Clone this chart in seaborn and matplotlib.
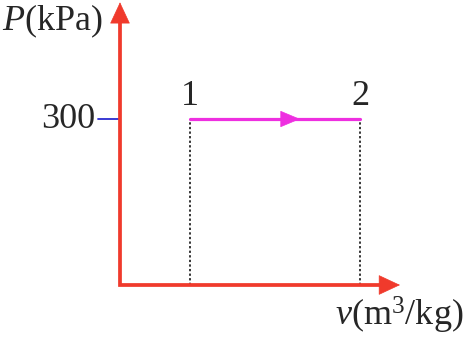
import matplotlib
matplotlib.use("Agg")
import matplotlib.pyplot as plt
import seaborn as sns
import pandas as pd

# data
state_labels = ["1", "2"]
v_values = [0.7, 2.4]
P_values = [300, 300]
P_tick_values = [300]
P_tick_labels = ["300"]
x_label = r"$v$(m$^3$/kg)"
y_label = r"$P$(kPa)"

sns.set_theme(style="white")
plt.rcParams["font.family"] = ["Liberation Serif", "DejaVu Serif"]
plt.rcParams["mathtext.fontset"] = "custom"
plt.rcParams["mathtext.rm"] = "Liberation Serif"
plt.rcParams["mathtext.it"] = "Liberation Serif:italic"

RED = "#f03a2c"
MAGENTA = "#ee2fe0"
BLUE = "#2b2bd0"
FS = 26

fig = plt.figure(figsize=(4.67, 3.38), dpi=100)
ax = fig.add_axes([0, 0, 1, 1])
ax.set_xlim(-1.2, 3.47)
ax.set_ylim(-95.8, 515.1)
ax.axis("off")

df = pd.DataFrame({"v": v_values, "P": P_values, "state": state_labels})

# dotted drop lines
for v, p in zip(v_values, P_values):
    ax.plot([v, v], [0, p], color="black", lw=1.1, ls=(0, (1.5, 1.5)), zorder=2)

# process line
sns.lineplot(data=df, x="v", y="P", color=MAGENTA, lw=2.3, ax=ax, zorder=3)
vmid = 1.8
ax.annotate("", xy=(vmid, P_values[0]), xytext=(vmid - 0.2, P_values[0]),
            arrowprops=dict(arrowstyle="-|>,head_length=0.55,head_width=0.23",
                            color=MAGENTA, lw=0.5, mutation_scale=24,
                            shrinkA=0, shrinkB=0), zorder=4)

# axes (single path for a mitred corner) + arrowheads
ax.plot([0, 0, 2.7], [500, 0, 0], color=RED, lw=2.7, solid_joinstyle="miter",
        solid_capstyle="butt", zorder=5)
ax.annotate("", xy=(0, 511), xytext=(0, 470),
            arrowprops=dict(arrowstyle="-|>,head_length=0.6,head_width=0.28",
                            color=RED, lw=0.5, mutation_scale=24,
                            shrinkA=0, shrinkB=0), zorder=5)
ax.annotate("", xy=(2.8, 0), xytext=(2.6, 0),
            arrowprops=dict(arrowstyle="-|>,head_length=0.6,head_width=0.28",
                            color=RED, lw=0.5, mutation_scale=24,
                            shrinkA=0, shrinkB=0), zorder=5)

# tick at 300
for p, lab in zip(P_tick_values, P_tick_labels):
    ax.plot([-0.22, 0], [p, p], color=BLUE, lw=1.3, zorder=4)
    ax.text(-0.245, p, lab, ha="right", va="center", fontsize=FS)

# state labels
for v, p, s in zip(v_values, P_values, state_labels):
    ax.text(v, p + 40, s, ha="center", va="center", fontsize=FS)

ax.text(-1.18, 477, y_label, ha="left", va="center", fontsize=FS)
ax.text(3.43, -55, x_label, ha="right", va="center", fontsize=FS)

fig.savefig("out.png", dpi=100)
